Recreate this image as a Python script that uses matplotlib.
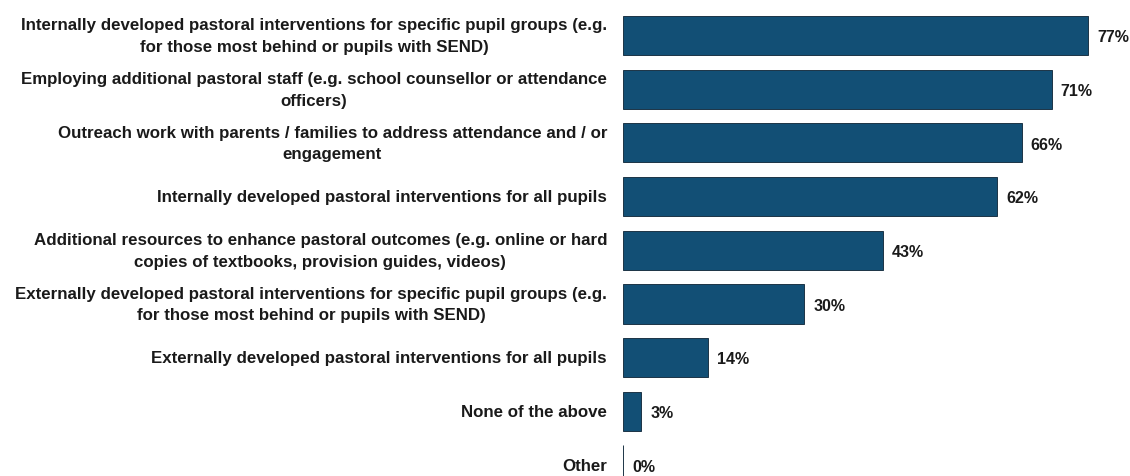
import matplotlib
matplotlib.use("Agg")
import matplotlib.pyplot as plt

categories = [
    "Internally developed pastoral interventions for specific pupil groups (e.g.\nfor those most behind or pupils with SEND)",
    "Employing additional pastoral staff (e.g. school counsellor or attendance\nofficers)",
    "Outreach work with parents / families to address attendance and / or\nengagement",
    "Internally developed pastoral interventions for all pupils",
    "Additional resources to enhance pastoral outcomes (e.g. online or hard\ncopies of textbooks, provision guides, videos)",
    "Externally developed pastoral interventions for specific pupil groups (e.g.\nfor those most behind or pupils with SEND)",
    "Externally developed pastoral interventions for all pupils",
    "None of the above",
    "Other",
]
values = [77, 71, 66, 62, 43, 30, 14, 3, 0]

family = ["Liberation Sans", "DejaVu Sans"]

bar_color = "#124f75"
px_per_pct = 6.04

fig = plt.figure(figsize=(11.3, 4.76), dpi=100)
ax = fig.add_axes([623 / 1130, 0, 1 - 623 / 1130, 1])

pos = list(range(len(values)))
ax.barh(pos, values, height=0.73, color=bar_color, edgecolor="#1c3446", linewidth=0.7)

ax.set_xlim(0, 507 / px_per_pct)
ax.set_ylim(8.203, -0.661)
ax.axis("off")

# category labels to the left of the bars
for i, text in zip(pos, categories):
    ax.text(-16 / px_per_pct, i + 0.02, text, ha="right", va="center", multialignment="center",
            fontsize=12.2, family=family, fontweight="bold", color="#1a1a1a",
            linespacing=1.55)

# value labels at the end of each bar
for i, v in zip(pos, values):
    ax.text(v + 9 / px_per_pct, i + 0.04, f"{v}%", ha="left", va="center",
            fontsize=11.5, family=family, fontweight="bold", color="#1a1a1a")

fig.savefig("out.png", dpi=100)
